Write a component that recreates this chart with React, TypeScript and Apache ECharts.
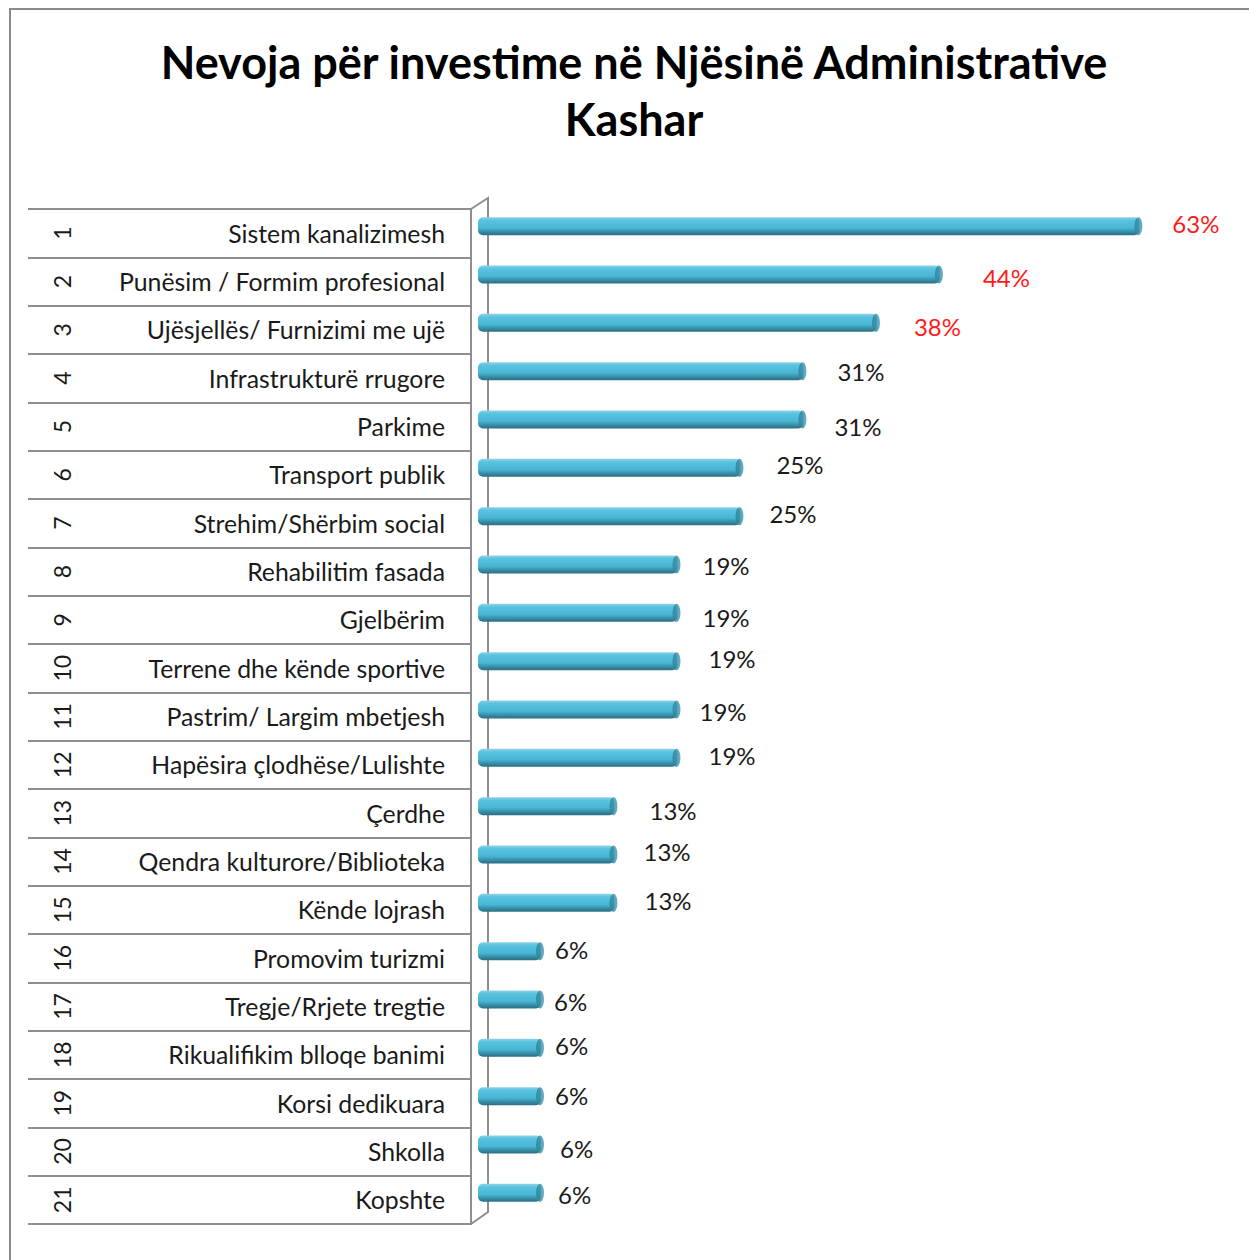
import React, { useEffect, useRef } from "react";
import * as echarts from "echarts";

const titleLines = ["Nevoja për investime në Njësinë Administrative", "Kashar"];

const rowNumbers = ["1","2","3","4","5","6","7","8","9","10","11","12","13","14","15","16","17","18","19","20","21"];

const categories = [
  "Sistem kanalizimesh",
  "Punësim / Formim profesional",
  "Ujësjellës/ Furnizimi me ujë",
  "Infrastrukturë rrugore",
  "Parkime",
  "Transport publik",
  "Strehim/Shërbim social",
  "Rehabilitim fasada",
  "Gjelbërim",
  "Terrene dhe kënde sportive",
  "Pastrim/ Largim mbetjesh",
  "Hapësira çlodhëse/Lulishte",
  "Çerdhe",
  "Qendra kulturore/Biblioteka",
  "Kënde lojrash",
  "Promovim turizmi",
  "Tregje/Rrjete tregtie",
  "Rikualifikim blloqe banimi",
  "Korsi dedikuara",
  "Shkolla",
  "Kopshte",
];

const values = [63, 44, 38, 31, 31, 25, 25, 19, 19, 19, 19, 19, 13, 13, 13, 6, 6, 6, 6, 6, 6];

// label nudges (style only): gap from bar end, vertical shift
const labelGap = [33, 43, 37, 34, 31, 36, 29, 25, 25, 31, 22, 31, 35, 29, 30, 14, 13, 14, 14, 19, 17];
const labelShift = [-3, 3, 4, 0, 7, -3, -3, 1, 5, -3, 2, -2, 4, -3, -2, -2, 2, -2, -1, 4, 2];
const highlightCount = 3;

const FONT = "Lato, 'Open Sans', sans-serif";

export default function App() {
  const ref = useRef<HTMLDivElement>(null);

  useEffect(() => {
    document.body.style.margin = "0";
    const chart = echarts.init(ref.current!, null, { renderer: "svg" });

    const barColor = new echarts.graphic.LinearGradient(0, 0, 0, 1, [
      { offset: 0, color: "#8fd2e6" },
      { offset: 0.18, color: "#58c3e0" },
      { offset: 0.6, color: "#48b6d4" },
      { offset: 0.85, color: "#34869e" },
      { offset: 1, color: "#2a6f83" },
    ]);
    const capColor = new echarts.graphic.LinearGradient(0, 0, 1, 0, [
      { offset: 0, color: "#2f7f95" },
      { offset: 1, color: "#3f9ab3" },
    ]);

    const option: any = {
      animation: false,
      backgroundColor: "#ffffff",
      textStyle: { fontFamily: FONT },
      grid: [
        { left: 478, right: 33, top: 202, height: 1015, containLabel: false },
        { left: 471, right: 33, top: 209, height: 1015, containLabel: false },
      ],
      xAxis: [
        { type: "value", gridIndex: 0, min: 0, max: 70.3, show: false },
        { type: "value", gridIndex: 1, min: 0, max: 70, show: false },
      ],
      yAxis: [
        {
          type: "category",
          gridIndex: 0,
          data: categories,
          inverse: true,
          show: false,
        },
        {
          type: "category",
          gridIndex: 1,
          data: categories,
          inverse: true,
          position: "left",
          axisLine: { show: true, lineStyle: { color: "#8e8e8e", width: 2 } },
          axisTick: { show: true, length: 443, lineStyle: { color: "#8e8e8e", width: 2 } },
          axisLabel: {
            margin: 26,
            fontSize: 24.8,
            color: "#1a1a1a",
            fontFamily: FONT,
            align: "right",
          },
          splitLine: { show: false },
        },
        {
          type: "category",
          gridIndex: 1,
          data: rowNumbers,
          inverse: true,
          position: "left",
          offset: 392,
          axisLine: { show: false },
          axisTick: { show: false },
          axisLabel: {
            margin: 6,
            rotate: 90,
            fontSize: 23,
            color: "#1a1a1a",
            fontFamily: FONT,
          },
          splitLine: { show: false },
        },
      ],
      graphic: [
        {
          type: "rect",
          shape: { x: 10, y: 9, width: 1300, height: 1400 },
          style: { fill: "none", stroke: "#8a8a8a", lineWidth: 2 },
          silent: true,
          z: -10,
        },
        {
          type: "polyline",
          shape: { points: [[471, 209], [488, 198], [488, 1212], [471, 1224]] },
          style: { fill: "none", stroke: "#8e8e8e", lineWidth: 2 },
          silent: true,
          z: 1,
        },
        {
          type: "text",
          x: 634,
          y: 33,
          style: {
            text: titleLines.join("\n"),
            textAlign: "center",
            textVerticalAlign: "top",
            fontFamily: FONT,
            fontWeight: "bold",
            fontSize: 45,
            lineHeight: 57,
            fill: "#000000",
          },
          z: 10,
        },
      ],
      series: [
        {
          type: "bar",
          xAxisIndex: 0,
          yAxisIndex: 0,
          barWidth: 18,
          z: 3,
          itemStyle: { color: barColor, borderRadius: [5, 5, 5, 5] },
          data: values.map((v, i) => ({
            value: v,
            label: {
              show: true,
              position: "right",
              distance: labelGap[i],
              offset: [0, labelShift[i]],
              formatter: "{c}%",
              fontSize: 24,
              fontFamily: FONT,
              color: i < highlightCount ? "#ff1a1a" : "#1a1a1a",
            },
          })),
        },
        {
          type: "scatter",
          xAxisIndex: 0,
          yAxisIndex: 0,
          symbol: "circle",
          symbolSize: [8, 18],
          symbolOffset: [-1, 0],
          z: 4,
          itemStyle: { color: capColor },
          data: values,
          label: { show: false },
        },
      ],
    };

    chart.setOption(option);
    return () => chart.dispose();
  }, []);

  return <div ref={ref} style={{ width: 1249, height: 1260 }} />;
}
